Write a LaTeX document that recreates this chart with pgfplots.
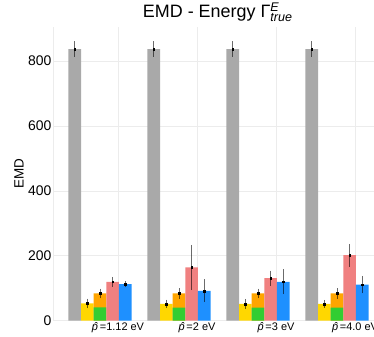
\documentclass[border=0pt]{standalone}
\usepackage{amsmath}
\usepackage{fontspec}
\setmainfont{Liberation Sans}
\usepackage{pgfplots}
\pgfplotsset{compat=1.18}
\definecolor{cgray}{HTML}{A9A9A9}
\definecolor{cyellow}{HTML}{FFD700}
\definecolor{corange}{HTML}{FFA500}
\definecolor{cgreen}{HTML}{32CD32}
\definecolor{cred}{HTML}{F08080}
\definecolor{cblue}{HTML}{1E90FF}
\begin{document}
\begin{tikzpicture}
\begin{axis}[
  at={(53bp,16.3bp)}, anchor=south west,
  scale only axis, width=323.5bp, height=293.7bp,
  xmin=-0.595, xmax=3.5, ymin=0, ymax=905,
  xtick={0.228,1.228,2.228,3.228},
  xticklabels={\textit{p̂}=1.12 eV,\textit{p̂}=2 eV,\textit{p̂}=3 eV,\textit{p̂}=4.0 eV},
  ytick={0,200,400,600,800},
  grid=major, major grid style={color=gray!15, line width=0.6pt},
  axis line style={draw=none},
  major tick length=0pt,
  /pgf/number format/assume math mode=true,
  yticklabel style={font=\fontsize{14}{14}\selectfont, inner sep=1.5bp},
  xticklabel style={font=\fontsize{11}{11}\selectfont, inner sep=1.2bp},
  every axis y label/.style={at={(rel axis cs:0,0.5)}, xshift=-34bp, rotate=90, anchor=center},
  ylabel={\fontsize{13.5}{13.5}\selectfont EMD},
  title={EMD - Energy Γ$^{\textit{E}}_{\textit{true}}$},
  title style={at={(0.5,1)}, anchor=base, yshift=3.7bp, xshift=3bp, inner sep=0pt, font=\fontsize{18}{18}\selectfont},
  clip=false,
]
\draw[gray!15, line width=0.6pt] (rel axis cs:0,0) -- (rel axis cs:0,1);
\pgfplotsset{
  errbar/.style={mark=square*, mark size=0.9bp, mark options={black, fill=black, draw=black},
    error bars/.cd, y dir=both, y explicit,
    error bar style={black, opacity=0.55, line width=0.9pt}, error mark=none},
}
\addplot[ybar, bar width=0.16, bar shift=0pt, fill=cgray, draw=none, errbar]
  coordinates {(-0.32,837) +- (0,24) (0.68,837) +- (0,24) (1.68,837) +- (0,24) (2.68,837) +- (0,24)};
\addplot[ybar, bar width=0.16, bar shift=0pt, fill=cyellow, draw=none, errbar]
  coordinates {(-0.16,53) +- (0,15) (0.84,52) +- (0,13) (1.84,52) +- (0,15) (2.84,52) +- (0,12)};
\addplot[ybar, bar width=0.16, bar shift=0pt, fill=corange, draw=none, errbar]
  coordinates {(0,84) +- (0,15) (1,84) +- (0,16) (2,84) +- (0,15) (3,84) +- (0,16)};
\addplot[ybar, bar width=0.16, bar shift=0pt, fill=cgreen, draw=none]
  coordinates {(0,41) (1,40) (2,40) (3,40)};
\addplot[ybar, bar width=0.16, bar shift=0pt, fill=cred, draw=none, errbar]
  coordinates {(0.16,120) +- (0,15) (1.16,164) +- (0,70) (2.16,131) +- (0,23) (3.16,202) +- (0,35)};
\addplot[ybar, bar width=0.16, bar shift=0pt, fill=cblue, draw=none, errbar]
  coordinates {(0.32,113) +- (0,10) (1.32,92) +- (0,35) (2.32,120) +- (0,38) (3.32,111) +- (0,27)};
\end{axis}
\pgfresetboundingbox
\path (0,0) rectangle (374bp,337bp);
\end{tikzpicture}
\end{document}
